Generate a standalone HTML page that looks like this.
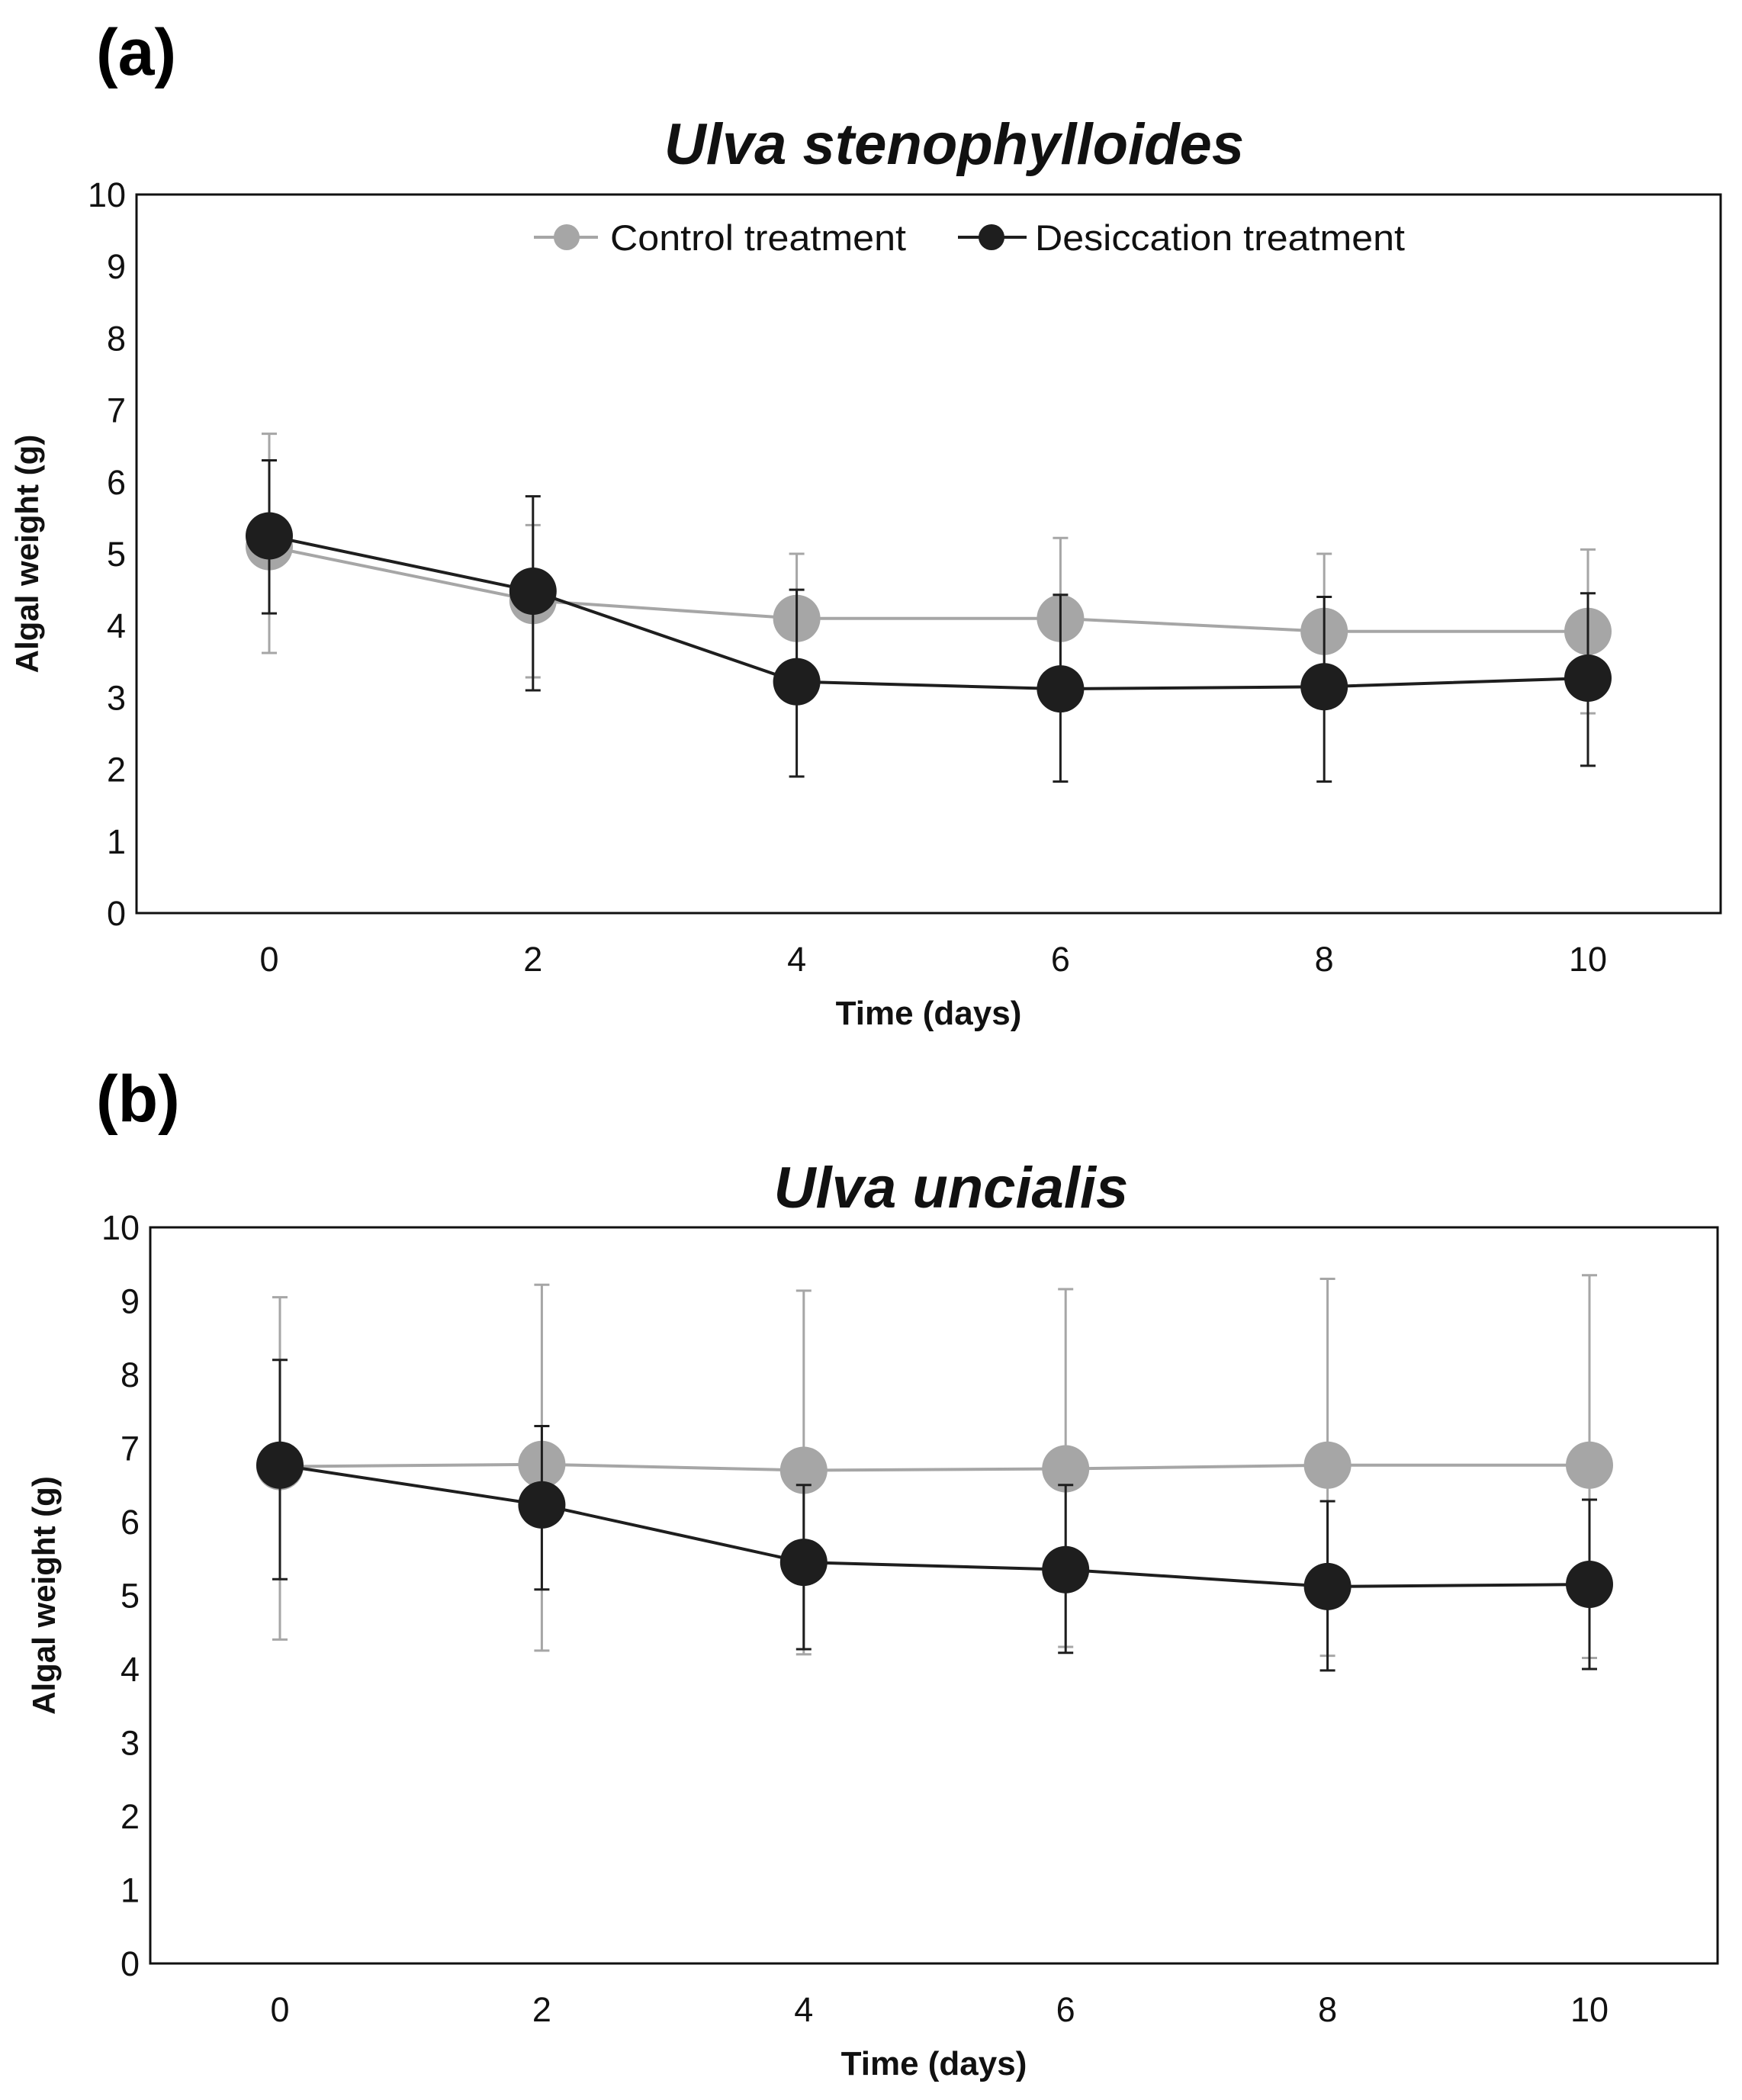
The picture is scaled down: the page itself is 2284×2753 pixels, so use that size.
<!DOCTYPE html>
<html><head><meta charset="utf-8"><style>
html,body{margin:0;padding:0;background:#fff;}
svg{display:block;font-family:"Liberation Sans",Arial,sans-serif;}
</style></head><body>
<svg id="fig" width="2284" height="2753" viewBox="0 0 2284 2753">
<text x="126" y="98" font-size="86" font-weight="bold">(a)</text>
<text x="126" y="1470" font-size="86" font-weight="bold">(b)</text>
</svg>
<script>
const days = [0, 2, 4, 6, 8, 10];
const yTicks = [0,1,2,3,4,5,6,7,8,9,10];
const xTicks = [0,2,4,6,8,10];
const aControl = [5.1, 4.35, 4.1, 4.1, 3.92, 3.92];
const aControlHi = [6.67, 5.4, 5.0, 5.22, 5.0, 5.06];
const aControlLo = [3.62, 3.28, 3.2, 3.0, 2.85, 2.78];
const aDesic = [5.25, 4.48, 3.22, 3.12, 3.15, 3.27];
const aDesicHi = [6.3, 5.8, 4.5, 4.43, 4.4, 4.45];
const aDesicLo = [4.17, 3.1, 1.9, 1.83, 1.83, 2.05];
const bControl = [6.75, 6.78, 6.7, 6.72, 6.77, 6.77];
const bControlHi = [9.05, 9.22, 9.14, 9.16, 9.3, 9.35];
const bControlLo = [4.4, 4.25, 4.2, 4.3, 4.18, 4.15];
const bDesic = [6.77, 6.23, 5.45, 5.35, 5.12, 5.15];
const bDesicHi = [8.2, 7.3, 6.5, 6.5, 6.28, 6.3];
const bDesicLo = [5.22, 5.08, 4.27, 4.22, 3.98, 4.0];

const NS = "http://www.w3.org/2000/svg";
const svg = document.getElementById('fig');
const GRAY = "#a6a6a6", BLACK = "#1e1e1e";
function el(tag, attrs, parent){
  const e = document.createElementNS(NS, tag);
  for (const k in attrs) e.setAttribute(k, attrs[k]);
  (parent||svg).appendChild(e);
  return e;
}
function panel(p){
  const g = el('g', {});
  
  
  const X = d => p.x0 + (p.x10 - p.x0) * d / 10;
  const Y = v => p.bottom - (p.bottom - p.top) * v / 10;
  const frame = el('rect', {x:p.left, y:p.top, width:p.right-p.left, height:p.bottom-p.top, fill:'none', stroke:'#111', 'stroke-width':3}, g);
  
  
  yTicks.forEach(v => {
    const t = el('text', {x:p.left-14, y:Y(v)+16, 'font-size':45, 'text-anchor':'end', fill:'#111'}, g);
    t.textContent = v;
    
    
  });
  xTicks.forEach(d => {
    const t = el('text', {x:X(d), y:p.bottom+76, 'font-size':45, 'text-anchor':'middle', fill:'#111'}, g);
    t.textContent = d;
    
    
  });
  const tt = el('text', {x:p.titleX, y:p.titleY, 'font-size':76, 'font-weight':'bold', 'font-style':'italic', 'text-anchor':'middle', fill:'#111'}, g);
  tt.textContent = p.title;
  
  
  const xt = el('text', {x:(p.left+p.right)/2, y:p.bottom+146, 'font-size':44, 'font-weight':'bold', 'text-anchor':'middle', fill:'#111'}, g);
  xt.textContent = 'Time (days)';
  
  
  const yx = p.yTitleX, yy = (p.top+p.bottom)/2;
  const yt = el('text', {x:yx, y:yy, 'font-size':42, 'font-weight':'bold', 'text-anchor':'middle', transform:`rotate(-90 ${yx} ${yy})`, fill:'#111'}, g);
  yt.textContent = 'Algal weight (g)';
  
  
  p.series.forEach(s => {
    const sg = el('g', {}, g);
    
    
    days.forEach((d,i) => {
      const x = X(d);
      const eb = el('path', {d:`M${x},${Y(s.hi[i])}V${Y(s.lo[i])}M${x-10},${Y(s.hi[i])}h20M${x-10},${Y(s.lo[i])}h20`, stroke:s.color, 'stroke-width':3, fill:'none'}, sg);
      
      
    });
    const ln = el('polyline', {points: days.map((d,i)=>X(d)+','+Y(s.vals[i])).join(' '), fill:'none', stroke:s.color, 'stroke-width':4}, sg);
    
    
    days.forEach((d,i) => {
      const c = el('circle', {cx:X(d), cy:Y(s.vals[i]), r:31, fill:s.color}, sg);
      
      
    });
  });
}
panel({name:'chart-a', left:179, right:2256, top:255, bottom:1197, x0:353, x10:2082,
  title:'Ulva stenophylloides', titleX:1251, titleY:215, yTitleX:50,
  series:[
    {name:'control-series', color:GRAY, vals:aControl, hi:aControlHi, lo:aControlLo},
    {name:'desiccation-series', color:BLACK, vals:aDesic, hi:aDesicHi, lo:aDesicLo}
  ]});
panel({name:'chart-b', left:197, right:2252, top:1609, bottom:2574, x0:367, x10:2084,
  title:'Ulva uncialis', titleX:1247, titleY:1583, yTitleX:72,
  series:[
    {name:'control-series', color:GRAY, vals:bControl, hi:bControlHi, lo:bControlLo},
    {name:'desiccation-series', color:BLACK, vals:bDesic, hi:bDesicHi, lo:bDesicLo}
  ]});
const lg = el('g', {});


[[700,784,743,800,GRAY,'Control treatment','legend-entry-control',388],[1256,1346,1300,1357,BLACK,'Desiccation treatment','legend-entry-desiccation',485]].forEach(a => {
  const eg = el('g', {}, lg);
  
  
  el('line', {x1:a[0], x2:a[1], y1:311, y2:311, stroke:a[4], 'stroke-width':4}, eg);
  el('circle', {cx:a[2], cy:311, r:17, fill:a[4]}, eg);
  const t = el('text', {x:a[3], y:328, 'font-size':47, fill:'#111', textLength:a[7], lengthAdjust:'spacingAndGlyphs'}, eg);
  t.textContent = a[5];
});
</script>
</body></html>
